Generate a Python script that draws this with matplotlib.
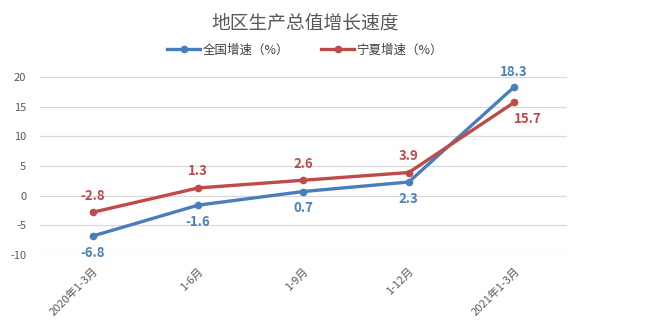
import matplotlib
matplotlib.use("Agg")
import matplotlib.pyplot as plt

plt.rcParams["font.family"] = ["Noto Sans CJK SC", "DejaVu Sans"]
plt.rcParams["axes.unicode_minus"] = False

periods = ["2020年1-3月", "1-6月", "1-9月", "1-12月", "2021年1-3月"]
national = [-6.8, -1.6, 0.7, 2.3, 18.3]
ningxia = [-2.8, 1.3, 2.6, 3.9, 15.7]

BLUE = "#4A7EBB"
RED = "#BE4B48"
GREY = "#595959"

fig = plt.figure(figsize=(6.56, 3.22), dpi=100)
ax = fig.add_axes([0.061, 0.208, 0.803, 0.553])

x = list(range(len(periods)))
ax.plot(x, national, color=BLUE, lw=2.4, marker="o", ms=4.5, label="全国增速（%）", zorder=3)
ax.plot(x, ningxia, color=RED, lw=2.4, marker="o", ms=4.5, label="宁夏增速（%）", zorder=3)

# blue labels sit under the points, red ones above, except at the last period
for i, v in enumerate(national):
    dy = 6 if i == len(x) - 1 else -7
    ax.annotate(f"{v}", (i, v), xytext=(0, dy), textcoords="offset points",
                ha="center", va="bottom" if dy > 0 else "top",
                color=BLUE, fontsize=9.5, fontweight="bold")
for i, v in enumerate(ningxia):
    if i == len(x) - 1:
        ax.annotate(f"{v}", (i, v), xytext=(10, -7), textcoords="offset points",
                    ha="center", va="top", color=RED, fontsize=9.5, fontweight="bold")
    else:
        ax.annotate(f"{v}", (i, v), xytext=(0, 7), textcoords="offset points",
                    ha="center", va="bottom", color=RED, fontsize=9.5, fontweight="bold")

ax.set_xlim(-0.5, len(x) - 0.5)
ax.set_ylim(-10, 20)
ax.set_yticks(range(-10, 21, 5))
ax.set_xticks(x)
ax.set_xticklabels(periods, rotation=45, ha="right", rotation_mode="anchor")
ax.tick_params(axis="both", length=0, colors=GREY, labelsize=8)
ax.tick_params(axis="y", pad=10)
ax.tick_params(axis="x", pad=8)
ax.grid(axis="y", color="#D9D9D9", lw=0.9)
ax.set_axisbelow(True)
for s in ax.spines.values():
    s.set_visible(False)

fig.text(0.465, 0.93, "地区生产总值增长速度", ha="center", va="center",
         fontsize=13.5, color=GREY)
fig.legend(loc="center", bbox_to_anchor=(0.465, 0.845), ncol=2, frameon=False,
           fontsize=9, handlelength=2.6, columnspacing=2.6, labelcolor="#404040",
           handletextpad=0.2)

fig.savefig("out.png", dpi=100)
